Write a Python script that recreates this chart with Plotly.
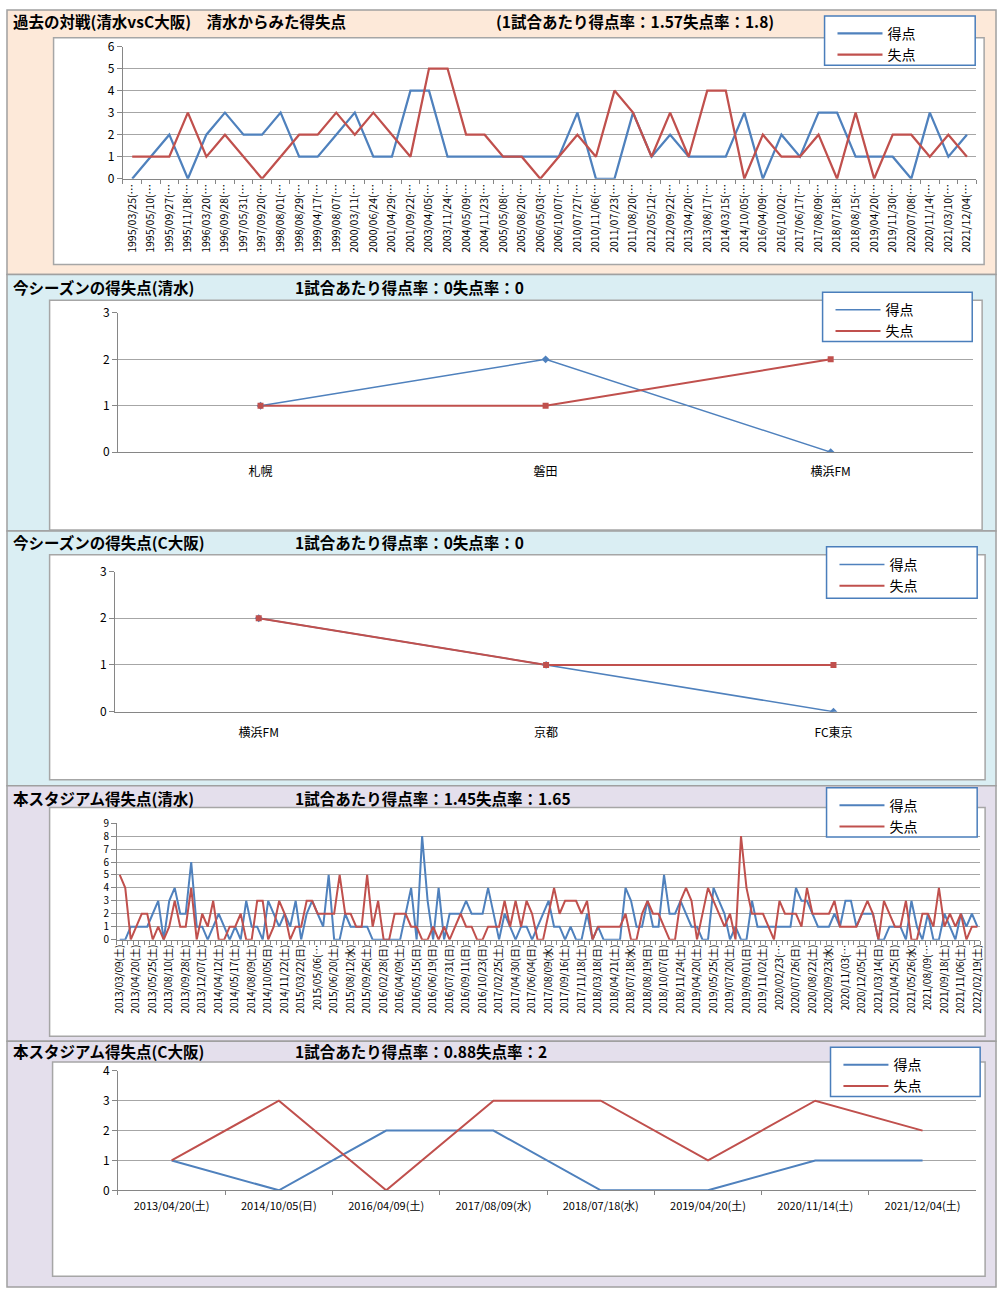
import plotly.graph_objects as go

# ---- data ----
# 過去の対戦 (清水 vs C大阪)
vs_dates = [
    "1995/03/25", "1995/05/10", "1995/09/27", "1995/11/18", "1996/03/20", "1996/09/28",
    "1997/05/31", "1997/09/20", "1998/08/01", "1998/08/29", "1999/04/17", "1999/08/07",
    "2000/03/11", "2000/06/24", "2001/04/29", "2001/09/22", "2003/04/05", "2003/11/24",
    "2004/05/09", "2004/11/23", "2005/05/08", "2005/08/20", "2006/05/03", "2006/10/07",
    "2010/07/27", "2010/11/06", "2011/07/23", "2011/08/20", "2012/05/12", "2012/09/22",
    "2013/04/20", "2013/08/17", "2014/03/15", "2014/10/05", "2016/04/09", "2016/10/02",
    "2017/06/17", "2017/08/09", "2018/07/18", "2018/08/15", "2019/04/20", "2019/11/30",
    "2020/07/08", "2020/11/14", "2021/03/10", "2021/12/04",
]
vs_scored = [0, 1, 2, 0, 2, 3, 2, 2, 3, 1, 1, 2, 3, 1, 1, 4, 4, 1, 1, 1, 1, 1, 1, 1,
             3, 0, 0, 3, 1, 2, 1, 1, 1, 3, 0, 2, 1, 3, 3, 1, 1, 1, 0, 3, 1, 2]
vs_conceded = [1, 1, 1, 3, 1, 2, 1, 0, 1, 2, 2, 3, 2, 3, 2, 1, 5, 5, 2, 2, 1, 1, 0, 1,
               2, 1, 4, 3, 1, 3, 1, 4, 4, 0, 2, 1, 1, 2, 0, 3, 0, 2, 2, 1, 2, 1]

# 今シーズン (清水)
season_s_opp = ["札幌", "磐田", "横浜FM"]
season_s_scored = [1, 2, 0]
season_s_conceded = [1, 1, 2]

# 今シーズン (C大阪)
season_c_opp = ["横浜FM", "京都", "FC東京"]
season_c_scored = [2, 1, 0]
season_c_conceded = [2, 1, 1]

# 本スタジアム (清水) - every third match is labelled on the axis
stadium_s_labels = [
    "2013/03/09(土)", "2013/04/20(土)", "2013/05/25(土)", "2013/08/10(土)", "2013/09/28(土)",
    "2013/12/07(土)", "2014/04/12(土)", "2014/05/17(土)", "2014/08/09(土)", "2014/10/05(日)",
    "2014/11/22(土)", "2015/03/22(日)", "2015/05/06(…", "2015/06/20(土)", "2015/08/12(水)",
    "2015/09/26(土)", "2016/02/28(日)", "2016/04/09(土)", "2016/05/15(日)", "2016/06/19(日)",
    "2016/07/31(日)", "2016/09/11(日)", "2016/10/23(日)", "2017/02/25(土)", "2017/04/30(日)",
    "2017/06/04(日)", "2017/08/09(水)", "2017/09/16(土)", "2017/11/18(土)", "2018/03/18(日)",
    "2018/04/21(土)", "2018/07/18(水)", "2018/08/19(日)", "2018/10/07(日)", "2018/11/24(土)",
    "2019/04/20(土)", "2019/05/25(土)", "2019/07/20(土)", "2019/09/01(日)", "2019/11/02(土)",
    "2020/02/23(…", "2020/07/26(日)", "2020/08/22(土)", "2020/09/23(水)", "2020/11/03(…",
    "2020/12/05(土)", "2021/03/14(日)", "2021/04/25(日)", "2021/05/26(水)", "2021/08/09(…",
    "2021/09/18(土)", "2021/11/06(土)", "2022/02/19(土)",
]
stadium_s_scored = [
    0, 0, 1, 1, 1, 1, 2, 3, 0, 3, 4, 2, 2, 6, 1, 1, 0, 1, 2, 1, 0, 1, 0, 3, 1, 1, 0, 3, 2, 1, 2,
    1, 3, 0, 2, 3, 2, 1, 5, 0, 0, 2, 1, 1, 1, 1, 0, 0, 0, 0, 0, 0, 2, 4, 0, 8, 3, 0, 4, 0,
    2, 2, 2, 3, 2, 2, 2, 4, 2, 0, 2, 1, 0, 1, 1, 0, 1, 2, 3, 1, 1, 0, 1, 0, 0, 2, 0, 1, 0, 0, 0,
    0,
    4, 3, 1, 1, 3, 1, 1, 5, 2, 2, 3, 2, 1, 1, 0, 0, 4, 3, 2, 0, 1, 0, 0, 3, 1, 1, 1, 1, 1, 1, 1,
    4, 3, 3, 2, 1, 1, 1, 2, 1, 3, 3, 1, 2, 2, 2, 0, 0, 1, 1, 1, 0, 3, 1, 0, 2, 0, 0, 2, 1, 0,
    2, 1, 2, 1,
]
stadium_s_conceded = [
    5, 4, 0, 1, 2, 2, 0, 1, 0, 1, 3, 1, 1, 4, 0, 2, 1, 3, 0, 0, 1, 1, 2, 0, 0, 3, 3, 0, 1, 3, 2,
    0, 1, 1, 3, 3, 2, 2, 2, 2, 5, 2, 2, 1, 1, 5, 1, 3, 0, 0, 2, 2, 2, 1, 1, 0, 0, 1, 0, 1,
    0, 1, 2, 1, 1, 0, 0, 1, 1, 1, 3, 1, 3, 1, 3, 2, 0, 0, 2, 4, 2, 3, 3, 3, 2, 3, 0, 1, 1, 1, 1, 1,
    2, 0, 0, 2, 3, 2, 2, 1, 0, 0, 3, 4, 3, 0, 2, 4, 3, 2, 1, 2, 0, 8, 4, 2, 2, 2, 1, 0, 3, 2, 2,
    2, 1, 4, 2, 2, 2, 2, 3, 1, 1, 1, 1, 2, 3, 2, 0, 3, 2, 1, 1, 3, 0, 0, 2, 2, 1, 4, 1, 2, 1,
    2, 0, 1, 1,
]

# 本スタジアム (C大阪)
stadium_c_dates = ["2013/04/20(土)", "2014/10/05(日)", "2016/04/09(土)", "2017/08/09(水)",
                   "2018/07/18(水)", "2019/04/20(土)", "2020/11/14(土)", "2021/12/04(土)"]
stadium_c_scored = [1, 0, 2, 2, 0, 0, 1, 1]
stadium_c_conceded = [1, 3, 0, 3, 3, 1, 3, 2]

# ---- helpers (pixel -> paper) ----
W, H = 1000, 1295


def fx(px):
    return px / W


def fy(py):
    return 1 - py / H


BLUE = "#4F81BD"
RED = "#C0504D"
AX = "#868686"
GRID = "#a6a6a6"
FONT = "Noto Sans CJK JP, Noto Sans, sans-serif"

fig = go.Figure()


def add_pair(x, scored, conceded, n, width=2.0, markers=False):
    xa = "x" if n == 1 else "x%d" % n
    ya = "y" if n == 1 else "y%d" % n
    lg = "legend" if n == 1 else "legend%d" % n
    fig.add_trace(go.Scatter(x=x, y=scored, name="得点", mode="lines",
                             line=dict(color=BLUE, width=1.5 if markers else width),
                             xaxis=xa, yaxis=ya, legend=lg))
    fig.add_trace(go.Scatter(x=x, y=conceded, name="失点", mode="lines",
                             line=dict(color=RED, width=width),
                             xaxis=xa, yaxis=ya, legend=lg))
    if markers:
        # markers drawn separately so the legend keeps plain line samples
        fig.add_trace(go.Scatter(x=x, y=scored, mode="markers", showlegend=False,
                                 marker=dict(symbol="diamond", size=6, color=BLUE),
                                 xaxis=xa, yaxis=ya))
        fig.add_trace(go.Scatter(x=x, y=conceded, mode="markers", showlegend=False,
                                 marker=dict(symbol="square", size=6, color=RED),
                                 xaxis=xa, yaxis=ya))


add_pair([d + "(…" for d in vs_dates], vs_scored, vs_conceded, 1, width=2.25)
add_pair(season_s_opp, season_s_scored, season_s_conceded, 2, markers=True)
add_pair(season_c_opp, season_c_scored, season_c_conceded, 3, markers=True)
add_pair(list(range(len(stadium_s_scored))), stadium_s_scored, stadium_s_conceded, 4)
add_pair(stadium_c_dates, stadium_c_scored, stadium_c_conceded, 5)


def xax(x0, x1, anchor, **kw):
    d = dict(domain=[fx(x0), fx(x1)], anchor=anchor, showline=True, linecolor=AX, linewidth=1,
             ticks="outside", ticklen=4, tickcolor=AX, showgrid=False, zeroline=False,
             tickfont=dict(size=11, color="#000"), fixedrange=True)
    d.update(kw)
    return d


def yax(top, bottom, anchor, ymax, size=12):
    return dict(domain=[fy(bottom), fy(top)], anchor=anchor, range=[0, ymax], dtick=1,
                showline=True, linecolor=AX, linewidth=1, ticks="outside", ticklen=5,
                tickcolor=AX, showgrid=True, gridcolor=GRID, gridwidth=1, zeroline=False,
                tickfont=dict(size=size, color="#000"), fixedrange=True)


n4 = len(stadium_s_scored)
fig.update_layout(
    xaxis=xax(118, 979, "y", type="category", tickson="boundaries", tickangle=-90,
              tickfont=dict(size=10.5, color="#000"), range=[-0.5, len(vs_dates) - 0.5]),
    yaxis=yax(37, 171, "x", 6),
    xaxis2=xax(113, 976, "y2", type="category", tickson="boundaries", ticklen=0,
               ticklabelstandoff=8, tickfont=dict(size=12, color="#000"), range=[-0.5, 2.5]),
    yaxis2=yax(307, 448, "x2", 3),
    xaxis3=xax(110, 980, "y3", type="category", tickson="boundaries", ticklen=0,
               ticklabelstandoff=10, tickfont=dict(size=12, color="#000"), range=[-0.5, 2.5]),
    yaxis3=yax(569, 711, "x3", 3),
    xaxis4=xax(112, 983, "y4", range=[-0.5, n4 - 0.5], tickmode="array",
               tickvals=list(range(0, n4, 3)), ticktext=stadium_s_labels, ticks="",
               tickangle=-90, tickfont=dict(size=10, color="#000"),
               minor=dict(ticks="outside", ticklen=4, tickcolor=AX, tickmode="linear",
                          tick0=-0.5, dtick=1, showgrid=False)),
    yaxis4=yax(824, 942, "x4", 9, size=10),
    xaxis5=xax(113, 979, "y5", type="category", tickson="boundaries", ticklabelstandoff=6,
               range=[-0.5, len(stadium_c_dates) - 0.5]),
    yaxis5=yax(1075, 1196, "x5", 4),
)

# background bands, chart boxes, legend boxes
shapes = []
bands = [(0, 268, "#FDE9D9"), (268, 528, "#DAEEF3"), (528, 786, "#DAEEF3"),
         (786, 1045, "#E4DFEC"), (1045, 1294, "#E4DFEC")]
for y0, y1, c in bands:
    shapes.append(dict(type="rect", xref="paper", yref="paper", x0=fx(1), x1=fx(999),
                       y0=fy(y1), y1=fy(y0), fillcolor=c, line=dict(color="#a0a0a0", width=1.5),
                       layer="below"))
boxes = [(48, 987, 28, 258), (44, 985, 294, 527), (44, 988, 552, 780),
         (44, 988, 808, 1040), (47, 988, 1066, 1283)]
for x0, x1, y0, y1 in boxes:
    shapes.append(dict(type="rect", xref="paper", yref="paper", x0=fx(x0), x1=fx(x1),
                       y0=fy(y1), y1=fy(y0), fillcolor="white",
                       line=dict(color="#a6a6a6", width=1.5), layer="below"))
legend_boxes = [(826, 978, 6, 56), (824, 975, 286, 336), (828, 980, 544, 596),
                (828, 980, 788, 838), (832, 983, 1051, 1101)]
for x0, x1, y0, y1 in legend_boxes:
    shapes.append(dict(type="rect", xref="paper", yref="paper", x0=fx(x0), x1=fx(x1),
                       y0=fy(y1), y1=fy(y0), fillcolor="white",
                       line=dict(color="#4A7EBB", width=1.5), layer="above"))


def leg(x0, y0):
    return dict(x=fx(x0 + 8), y=fy(y0 + 2), xanchor="left", yanchor="top",
                bgcolor="rgba(0,0,0,0)", borderwidth=0, itemwidth=45, tracegroupgap=0,
                font=dict(size=14, color="#000"), itemclick=False, itemdoubleclick=False)


legends = {}
for i, (x0, x1, y0, y1) in enumerate(legend_boxes):
    key = "legend" if i == 0 else "legend%d" % (i + 1)
    legends[key] = leg(x0, y0)

# titles
titles = [
    (5, 11, "過去の対戦(清水vsC大阪)　清水からみた得失点"),
    (492, 11, "(1試合あたり得点率：1.57失点率：1.8)"),
    (5, 281, "今シーズンの得失点(清水)"),
    (290, 281, "1試合あたり得点率：0失点率：0"),
    (5, 539, "今シーズンの得失点(C大阪)"),
    (290, 539, "1試合あたり得点率：0失点率：0"),
    (5, 798, "本スタジアム得失点(清水)"),
    (290, 798, "1試合あたり得点率：1.45失点率：1.65"),
    (5, 1055, "本スタジアム得失点(C大阪)"),
    (290, 1055, "1試合あたり得点率：0.88失点率：2"),
]
annotations = [dict(xref="paper", yref="paper", x=fx(x), y=fy(y), xanchor="left",
                    yanchor="middle", showarrow=False, text="<b>%s</b>" % t,
                    font=dict(size=15.5, color="#000")) for x, y, t in titles]

fig.update_layout(
    width=W, height=H, margin=dict(l=0, r=0, t=0, b=0),
    paper_bgcolor="white", plot_bgcolor="rgba(0,0,0,0)",
    font=dict(family=FONT, color="#000"),
    shapes=shapes, annotations=annotations, showlegend=True,
    **legends,
)

# pin the chart to the page corner (no default body margin)
pin = ("document.documentElement.style.margin='0';"
       "document.body.style.margin='0';document.body.style.padding='0';"
       "document.body.style.overflow='hidden';"
       "var gd=document.getElementById('{plot_id}');"
       "gd.style.position='absolute';gd.style.left='0px';gd.style.top='0px';")
fig.write_html("out.html", config={"displayModeBar": False}, post_script=pin)
